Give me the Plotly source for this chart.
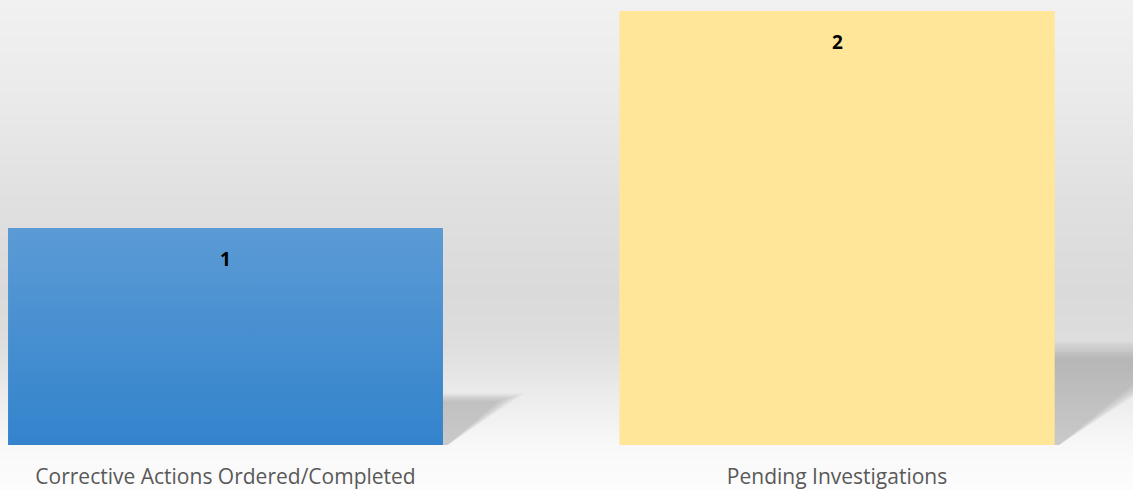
import plotly.graph_objects as go

categories = ["Corrective Actions Ordered/Completed", "Pending Investigations"]
values = [1, 2]
bar_colors_top = ["#5b9bd5", "#ffe699"]
bar_colors_bottom = ["#3383cc", "#ffe699"]

W, H = 1133, 490
MB = 45
bar_w = 0.711
x_range = [-0.3688, 1.4840]
y_range = [0, 2.0507]

fig = go.Figure()

# bars
fig.add_trace(go.Bar(
    x=list(range(len(categories))), y=values, width=bar_w,
    marker=dict(color=bar_colors_top, line=dict(width=0)),
    hoverinfo="skip", showlegend=False,
))

# vertical gradient overlays for each bar
for i, v in enumerate(values):
    x0, x1 = i - bar_w / 2, i + bar_w / 2
    fig.add_trace(go.Scatter(
        x=[x0, x1, x1, x0, x0], y=[0, 0, v, v, 0], mode="lines",
        line=dict(width=0), fill="toself",
        fillgradient=dict(type="vertical",
                          colorscale=[[0, bar_colors_bottom[i]], [1, bar_colors_top[i]]]),
        hoverinfo="skip", showlegend=False,
    ))

shapes = []
# background gradient bands (paper coordinates)
stops = [(0, 241), (100, 234), (200, 224), (290, 218), (340, 221),
         (380, 231), (420, 242), (445, 248), (490, 252)]

def gray_at(py):
    for (a, ga), (b, gb) in zip(stops[:-1], stops[1:]):
        if a <= py <= b:
            t = (py - a) / (b - a)
            return ga + (gb - ga) * t
    return stops[-1][1]

plot_h = H - MB
step = 4
for py in range(0, H, step):
    g = int(round(gray_at(py + step / 2)))
    y_top = 1 - py / plot_h
    y_bot = 1 - (py + step) / plot_h
    shapes.append(dict(type="rect", xref="paper", yref="paper",
                       x0=0, x1=1, y0=y_bot, y1=y_top + 0.0005,
                       fillcolor=f"rgb({g},{g},{g})", line=dict(width=0),
                       layer="below"))

# perspective shadows behind bars (soft edges by layering)
n_layers = 7
for i, v in enumerate(values):
    x0, x1 = i - bar_w / 2, i + bar_w / 2
    for k in range(n_layers):
        hf = 0.238 - k * 0.006
        sf = 0.112 * hf / 0.22 + 0.012 - k * 0.004
        h = hf * v
        s = sf * v
        path = f"M {x0},0 L {x1 + 0.008},0 L {x1 + s},{h} L {x0 + s},{h} Z"
        shapes.append(dict(type="path", xref="x", yref="y", path=path,
                           fillcolor="rgba(0,0,0,0.026)", line=dict(width=0),
                           layer="below"))

annotations = []
for i, v in enumerate(values):
    annotations.append(dict(x=i, y=v, xref="x", yref="y", text=f"<b>{v}</b>",
                            showarrow=False, yanchor="middle", yshift=-31,
                            font=dict(size=19, color="#000000", family="Open Sans")))

fig.update_layout(
    width=W, height=H,
    margin=dict(l=0, r=0, t=0, b=MB),
    paper_bgcolor="#fafafa", plot_bgcolor="rgba(0,0,0,0)",
    shapes=shapes, annotations=annotations,
    xaxis=dict(range=x_range, tickmode="array", tickvals=list(range(len(categories))),
               ticktext=categories, showgrid=False, zeroline=False, showline=False,
               ticks="", ticklabelstandoff=17,
               tickfont=dict(size=21, color="#595959", family="Open Sans")),
    yaxis=dict(range=y_range, showgrid=False, zeroline=False, showline=False,
               showticklabels=False, ticks=""),
    showlegend=False,
)

fig.write_html("out.html")
